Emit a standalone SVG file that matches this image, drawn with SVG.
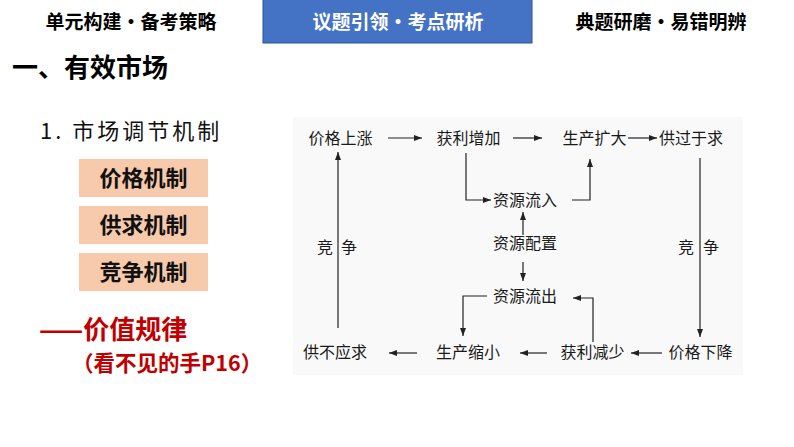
<svg xmlns="http://www.w3.org/2000/svg" width="794" height="447" viewBox="0 0 794 447">
<defs>
<style>
.hdr{font-family:"Noto Sans CJK SC","Liberation Sans",sans-serif;font-size:19px;font-weight:bold;text-anchor:middle}
.ttl{font-family:"Noto Sans CJK SC","Liberation Sans",sans-serif;font-weight:bold;fill:#000}
.mech rect{fill:#f7caac}
.mech text{font-family:"Noto Sans CJK SC","Liberation Sans",sans-serif;font-size:22px;font-weight:bold;text-anchor:middle;fill:#111}
.red{font-family:"Noto Sans CJK SC","Liberation Sans",sans-serif;font-weight:bold;fill:#c00000}
.dn text{font-family:"Liberation Serif","Noto Sans CJK SC",serif;font-size:16px;fill:#1a1a1a;text-anchor:middle}
.conn line,.conn path{stroke:#222;stroke-width:1.2;fill:none;marker-end:url(#ah)}
</style>
<marker id="ah" markerUnits="userSpaceOnUse" markerWidth="9" markerHeight="7" refX="8" refY="3" orient="auto">
<path d="M0,0 L8,3 L0,6 z" fill="#222"/>
</marker>
</defs>
<rect width="794" height="447" fill="#fff"/>

<g id="header">
<rect x="263" y="-1" width="269" height="44" fill="#4472c4" stroke="#2f528f" stroke-width="1"/>
<text class="hdr" x="131" y="29" fill="#000">单元构建•备考策略</text>
<text class="hdr" x="398" y="29" fill="#fff">议题引领•考点研析</text>
<text class="hdr" x="661" y="29" fill="#000">典题研磨•易错明辨</text>
</g>

<g id="title">
<text class="ttl" x="12" y="77" font-size="26">一、有效市场</text>
<text x="40" y="139" font-family="'Noto Sans CJK SC','Liberation Sans',sans-serif" font-size="22" fill="#111" letter-spacing="3">1. 市场调节机制</text>
</g>

<g id="mech1" class="mech"><rect x="79" y="159" width="129" height="38"/><text x="143.5" y="186">价格机制</text></g>
<g id="mech2" class="mech"><rect x="79" y="206" width="129" height="38"/><text x="143.5" y="233">供求机制</text></g>
<g id="mech3" class="mech"><rect x="79" y="253" width="129" height="38"/><text x="143.5" y="280">竞争机制</text></g>

<g id="law">
<text class="red" x="39" y="339" font-size="26">——价值规律</text>
<text class="red" x="72" y="371" font-size="21.5">（看不见的手P16）</text>
</g>

<rect x="293" y="117" width="450" height="258" fill="#f9f9f9"/>

<g class="dn">
<g id="n1"><text x="340.5" y="144">价格上涨</text></g>
<g id="n2"><text x="468.5" y="144">获利增加</text></g>
<g id="n3"><text x="594.5" y="144">生产扩大</text></g>
<g id="n4"><text x="691" y="144">供过于求</text></g>
<g id="n5"><text x="525" y="206">资源流入</text></g>
<g id="n6"><text x="525" y="249">资源配置</text></g>
<g id="n7"><text x="525" y="302">资源流出</text></g>
<g id="n8"><text x="335" y="358">供不应求</text></g>
<g id="n9"><text x="468" y="358">生产缩小</text></g>
<g id="n10"><text x="592.5" y="358">获利减少</text></g>
<g id="n11"><text x="700.5" y="358">价格下降</text></g>
<g id="l1"><text x="325" y="253">竞</text><text x="349" y="253">争</text></g>
<g id="l2"><text x="686" y="253">竞</text><text x="711" y="253">争</text></g>
</g>

<g class="conn">
<line x1="388" y1="138" x2="422" y2="138"/>
<line x1="513" y1="138" x2="542" y2="138"/>
<line x1="628" y1="138" x2="657" y2="138"/>
<path d="M466,153 V200 H491"/>
<path d="M572,200 H590 V159"/>
<line x1="523" y1="235" x2="523" y2="212"/>
<line x1="523" y1="262" x2="523" y2="281"/>
<path d="M487,296 H463 V336"/>
<path d="M593,342 V298 H573"/>
<line x1="662" y1="353" x2="631" y2="353"/>
<line x1="547" y1="353" x2="520" y2="353"/>
<line x1="417" y1="353" x2="389" y2="353"/>
<line x1="338" y1="328" x2="338" y2="152"/>
<line x1="700" y1="158" x2="700" y2="337"/>
</g>
</svg>
